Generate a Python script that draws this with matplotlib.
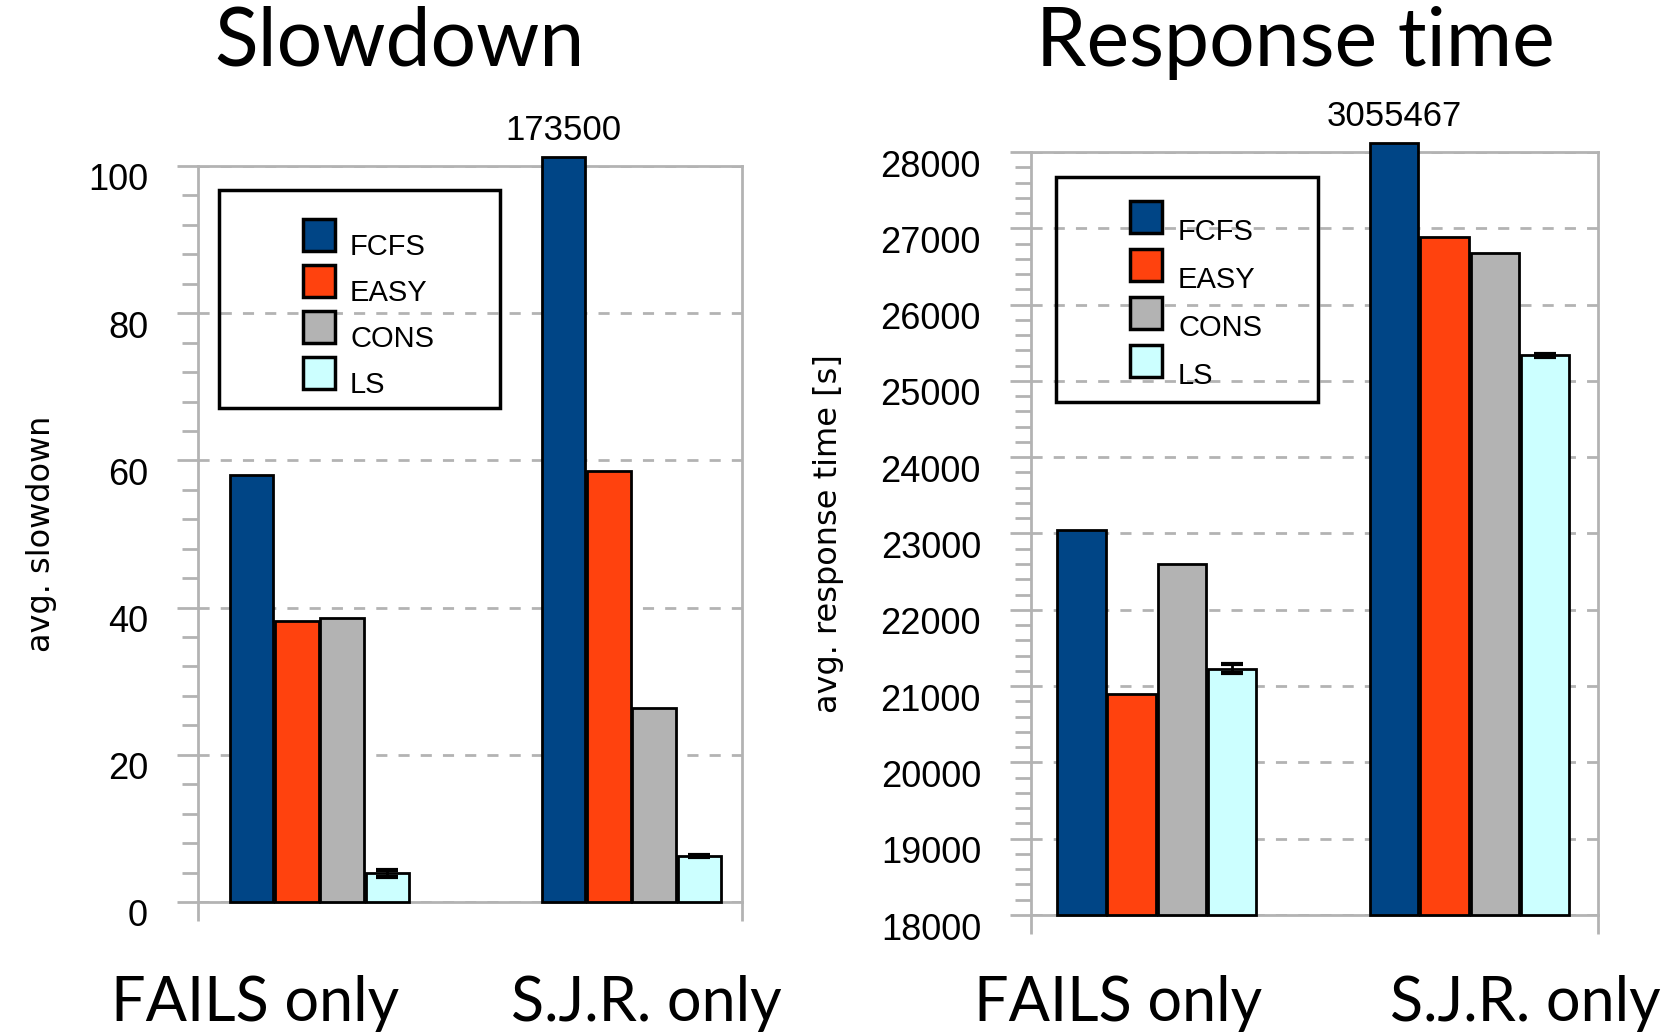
import numpy as np
import matplotlib.pyplot as plt
from matplotlib.patches import Rectangle
from matplotlib.transforms import ScaledTranslation

# data
groups = ['FAILS only', 'S.J.R. only']
schedulers = ['FCFS', 'EASY', 'CONS', 'LS']
colors = ['#004586', '#ff420e', '#b3b3b3', '#ccffff']

slowdown = {
    'FCFS': [58.0, 173500],
    'EASY': [38.2, 58.5],
    'CONS': [38.6, 26.4],
    'LS':   [3.9, 6.3],
}
slowdown_err = [0.45, 0.15]

response = {
    'FCFS': [23040, 3055467],
    'EASY': [20890, 26890],
    'CONS': [22600, 26670],
    'LS':   [21230, 25335],
}
response_err = [60, 20]

W, H = 1678, 1034
fig = plt.figure(figsize=(W / 100, H / 100), dpi=100)
plt.rcParams['font.family'] = 'Liberation Sans'

GRID = '#b3b3b3'


def px(x, y):
    return x / W, 1 - y / H


def make_axes(rect, ymin, ymax, major, minor):
    ax = fig.add_axes(rect)
    ax.set_xlim(0, 2)
    ax.set_ylim(ymin, ymax)
    ax.set_yticks(np.arange(ymin, ymax + 1, major))
    ax.set_yticks(np.arange(ymin, ymax + 1, minor), minor=True)
    ax.set_xticks([0, 2])
    ax.set_xticklabels([])
    for s in ax.spines.values():
        s.set_color(GRID)
        s.set_linewidth(2)
    ax.tick_params(axis='y', which='major', length=15, width=2, color=GRID,
                   labelsize=26, pad=21)
    ax.tick_params(axis='y', which='minor', length=11.5, width=2, color=GRID)
    ax.tick_params(axis='x', length=14, width=2, color=GRID)
    ax.yaxis.grid(True, which='major', color=GRID, linestyle=(0, (4, 4)), linewidth=2)
    ax.set_axisbelow(True)
    shift = ScaledTranslation(0, -11 / 100, fig.dpi_scale_trans)
    for lab in ax.get_yticklabels():
        lab.set_transform(lab.get_transform() + shift)
    return ax


def draw_bars(ax, data, errs, centers, width, ymin, ymax):
    n = len(schedulers)
    for i, (name, col) in enumerate(zip(schedulers, colors)):
        xs = np.array(centers) + (i - (n - 1) / 2) * width * 1.04
        vals = np.array(data[name], dtype=float)
        shown = np.minimum(vals, ymax + 0.012 * (ymax - ymin))
        ax.bar(xs, shown - ymin, bottom=ymin, width=width, color=col,
               edgecolor='black', linewidth=2, clip_on=False, zorder=3)
        if name == 'LS':
            ax.errorbar(xs, vals, yerr=errs, fmt='none', ecolor='black',
                        elinewidth=2, capsize=8, capthick=3, zorder=4)
        for x, v in zip(xs, vals):
            if v > ymax:
                ax.annotate(f'{int(v)}', (x, ymax), xytext=(0, 14),
                            textcoords='offset points', ha='center',
                            va='bottom', fontsize=25)


def draw_legend(box, patch_x, patch_y0, step, size, text_x, text_dy):
    x0, y0, x1, y1 = box
    fx0, fy1 = px(x0, y1)
    fx1, fy0 = px(x1, y0)
    fig.patches.append(Rectangle((fx0, fy1), fx1 - fx0, fy0 - fy1,
                                 transform=fig.transFigure, fill=False,
                                 edgecolor='black', linewidth=2.5))
    for i, (name, col) in enumerate(zip(schedulers, colors)):
        top = patch_y0 + i * step
        a, b = px(patch_x, top + size)
        fig.patches.append(Rectangle((a, b), size / W, size / H,
                                     transform=fig.transFigure, facecolor=col,
                                     edgecolor='black', linewidth=2.5))
        tx, ty = px(text_x, top + size / 2 + text_dy)
        fig.text(tx, ty, name, fontsize=21, va='center', ha='left')


# left panel: slowdown
ax1 = make_axes([198 / W, 1 - 902 / H, 544 / W, 736 / H], 0, 100, 20, 4)
draw_bars(ax1, slowdown, slowdown_err, [0.447, 1.594], 0.160, 0, 100)
ax1.set_ylabel('avg. slowdown', fontsize=23, family='DejaVu Sans', labelpad=22)
draw_legend((219, 190, 500, 408), 303, 219, 46, 32, 350, 12)

# right panel: response time
ax2 = make_axes([1031 / W, 1 - 915 / H, 567 / W, 763 / H], 18000, 28000, 1000, 200)
draw_bars(ax2, response, response_err, [0.443, 1.547], 0.170, 18000, 28000)
ax2.set_ylabel('avg. response time [s]', fontsize=23, family='DejaVu Sans', labelpad=26)
draw_legend((1056, 177, 1318, 402), 1130, 201, 48, 32, 1178, 15)

# slide-style titles and group labels
big = 'Lato'
fig.text(*px(399, 43), 'Slowdown', fontsize=58, family=big, ha='center', va='center')
fig.text(*px(1295, 43), 'Response time', fontsize=58, family=big, ha='center', va='center')
for x, g in zip([255, 646], groups):
    fig.text(*px(x, 1004), g, fontsize=44, family=big, ha='center', va='center')
for x, g in zip([1118, 1525], groups):
    fig.text(*px(x, 1004), g, fontsize=44, family=big, ha='center', va='center')

fig.savefig('out.png', dpi=100)
